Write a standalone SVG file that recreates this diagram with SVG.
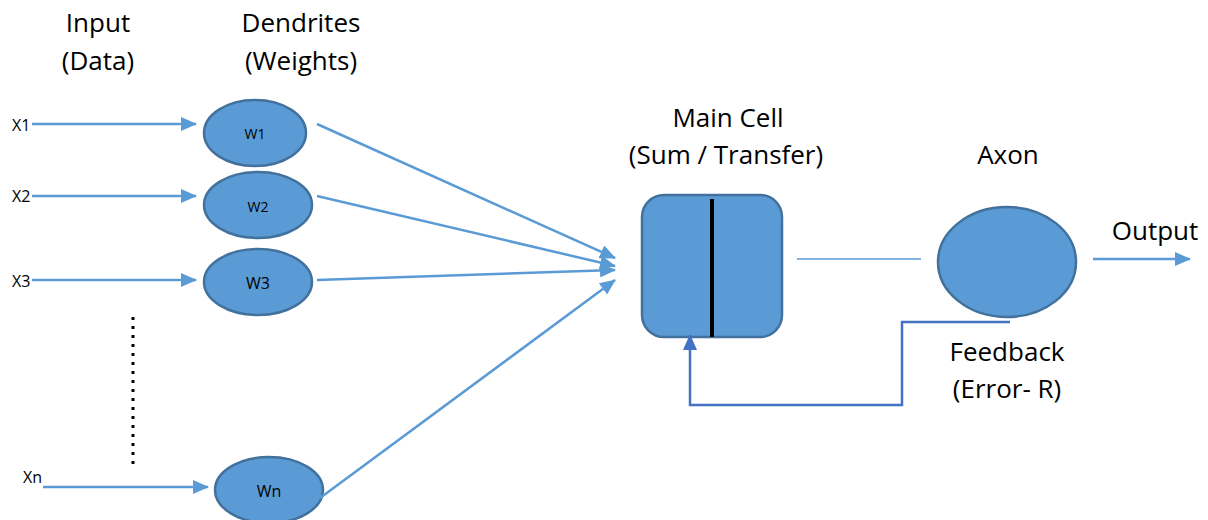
<svg xmlns="http://www.w3.org/2000/svg" width="1208" height="520" viewBox="0 0 1208 520">
<style>
.t{font-family:"Open Sans",Lato,"Liberation Sans",sans-serif;font-size:26px;fill:#000;text-anchor:middle}
.s{font-family:"Open Sans",Lato,"Liberation Sans",sans-serif;font-size:16px;fill:#000}
.n{fill:#5B9BD5;stroke:#41719C;stroke-width:2.5}
.c{stroke:#5B9BD5;stroke-width:2.5;fill:none}
</style>
<defs>
<marker id="a" markerUnits="userSpaceOnUse" markerWidth="16" markerHeight="14" refX="15" refY="7" orient="auto"><path d="M0,0 L16,7 L0,14 Z" fill="#5B9BD5"/></marker>
<marker id="b" markerUnits="userSpaceOnUse" markerWidth="16" markerHeight="14" refX="15" refY="7" orient="auto"><path d="M0,0 L16,7 L0,14 Z" fill="#4472C4"/></marker>
</defs>
<g id="labels">
<text class="t" x="98" y="32">Input</text>
<text class="t" x="98" y="70">(Data)</text>
<text class="t" x="301" y="32">Dendrites</text>
<text class="t" x="301" y="70">(Weights)</text>
<text class="t" x="728" y="127">Main Cell</text>
<text class="t" x="726" y="164">(Sum / Transfer)</text>
<text class="t" x="1008" y="164">Axon</text>
<text class="t" x="1155" y="240">Output</text>
<text class="t" x="1007" y="361">Feedback</text>
<text class="t" x="1007" y="398">(Error- R)</text>
<text class="s" x="12" y="131">X1</text>
<text class="s" x="12" y="202">X2</text>
<text class="s" x="12" y="287">X3</text>
<text class="s" x="23" y="483">Xn</text>
</g>
<g id="dots"><line x1="133" y1="317" x2="133" y2="468" stroke="#000" stroke-width="3" stroke-dasharray="3,6"/></g>
<g id="w1"><ellipse class="n" cx="255" cy="133" rx="51" ry="33"/><text class="s" x="255" y="139" text-anchor="middle" style="font-size:14px">W1</text></g>
<g id="w2"><ellipse class="n" cx="258" cy="205" rx="54" ry="33"/><text class="s" x="258" y="212" text-anchor="middle" style="font-size:14px">W2</text></g>
<g id="w3"><ellipse class="n" cx="258" cy="282" rx="54" ry="33"/><text class="s" x="258" y="289" text-anchor="middle" style="font-size:16px">W3</text></g>
<g id="wn"><ellipse class="n" cx="269" cy="490" rx="54" ry="33"/><text class="s" x="269" y="497" text-anchor="middle" style="font-size:16px">Wn</text></g>
<g id="cell"><rect class="n" x="642" y="195" width="140" height="142" rx="22"/><line x1="712" y1="199" x2="712" y2="337" stroke="#000" stroke-width="4"/></g>
<g id="axon"><ellipse class="n" cx="1007" cy="262" rx="69" ry="55"/></g>
<g id="connectors">
<line class="c" x1="32" y1="124" x2="196" y2="124" marker-end="url(#a)"/>
<line class="c" x1="32" y1="196" x2="196" y2="196" marker-end="url(#a)"/>
<line class="c" x1="32" y1="280" x2="196" y2="280" marker-end="url(#a)"/>
<line class="c" x1="43" y1="487" x2="208" y2="487" marker-end="url(#a)"/>
<line class="c" x1="317" y1="124" x2="615" y2="258" marker-end="url(#a)"/>
<line class="c" x1="317" y1="196" x2="615" y2="266" marker-end="url(#a)"/>
<line class="c" x1="317" y1="280" x2="615" y2="270" marker-end="url(#a)"/>
<line class="c" x1="320" y1="498" x2="615" y2="280" marker-end="url(#a)"/>
<line x1="797" y1="259" x2="921" y2="259" stroke="#5B9BD5" stroke-width="1.5"/>
<line class="c" x1="1093" y1="259" x2="1190" y2="259" marker-end="url(#a)"/>
<polyline points="1010,322 902,322 902,405 690,405 690,335" fill="none" stroke="#4472C4" stroke-width="2.5" marker-end="url(#b)"/>
</g>
</svg>
